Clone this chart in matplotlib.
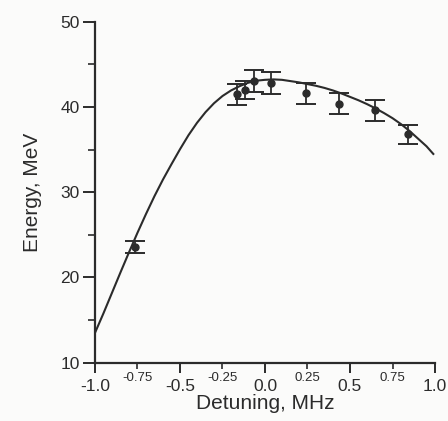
import matplotlib
matplotlib.use("Agg")
import matplotlib.pyplot as plt
from matplotlib.ticker import FixedLocator, FixedFormatter

# Measured points
det = [-0.765, -0.167, -0.118, -0.065, 0.033, 0.239, 0.437, 0.647, 0.843]
energy = [23.6, 41.5, 42.0, 43.1, 42.8, 41.6, 40.4, 39.6, 36.8]
err = [0.7, 1.2, 1.1, 1.3, 1.3, 1.2, 1.2, 1.2, 1.1]

# Theoretical curve
curve_x = [-1.0, -0.95, -0.90, -0.85, -0.80, -0.75, -0.70, -0.65, -0.60,
           -0.55, -0.50, -0.45, -0.40, -0.35, -0.30, -0.25, -0.20, -0.15,
           -0.10, -0.05, 0.0, 0.05, 0.10, 0.15, 0.20, 0.25, 0.30, 0.35,
           0.40, 0.45, 0.50, 0.55, 0.60, 0.65, 0.70, 0.75, 0.80, 0.85,
           0.90, 0.95, 0.99]
curve_y = [13.5, 15.8, 18.2, 20.6, 22.95, 25.25, 27.45, 29.55, 31.5,
           33.3, 35.05, 36.7, 38.15, 39.4, 40.45, 41.3, 41.95, 42.45,
           42.85, 43.1, 43.2, 43.25, 43.2, 43.05, 42.9, 42.7, 42.5, 42.25,
           41.95, 41.6, 41.2, 40.8, 40.35, 39.85, 39.3, 38.7, 38.0, 37.2,
           36.3, 35.4, 34.5]

major_x = [-1.0, -0.5, 0.0, 0.5, 1.0]
major_xlabels = ["-1.0", "-0.5", "0.0", "0.5", "1.0"]
minor_x = [-0.75, -0.25, 0.25, 0.75]
minor_xlabels = ["-0.75", "-0.25", "0.25", "0.75"]
major_y = [10, 20, 30, 40, 50]
minor_y = [15, 25, 35, 45]

plt.rcParams['font.family'] = ['Liberation Sans', 'DejaVu Sans']
ink = '#2b2b2b'

fig = plt.figure(figsize=(4.48, 4.21), dpi=100, facecolor='#fbfbfa')
ax = fig.add_axes([0.212, 0.1385, 0.759, 0.8095])
ax.set_facecolor('#fbfbfa')

ax.plot(curve_x, curve_y, color=ink, lw=1.5, solid_joinstyle='round')
ax.errorbar(det, energy, yerr=err, fmt='o', color=ink, ms=5, capsize=7,
            elinewidth=1.3, capthick=1.4)

ax.set_xlim(-1.0, 1.0)
ax.set_ylim(10, 50)
for s in ['top', 'right']:
    ax.spines[s].set_visible(False)
for s in ['left', 'bottom']:
    ax.spines[s].set_color(ink)
    ax.spines[s].set_linewidth(1.6)

ax.xaxis.set_major_locator(FixedLocator(major_x))
ax.xaxis.set_major_formatter(FixedFormatter(major_xlabels))
ax.xaxis.set_minor_locator(FixedLocator(minor_x))
ax.xaxis.set_minor_formatter(FixedFormatter(minor_xlabels))
ax.yaxis.set_major_locator(FixedLocator(major_y))
ax.yaxis.set_minor_locator(FixedLocator(minor_y))

ax.tick_params(axis='x', which='major', direction='out', length=7, width=1.4,
               colors=ink, labelsize=12.5, pad=5)
ax.tick_params(axis='x', which='minor', direction='out', length=4, width=1.2,
               colors=ink, labelsize=9.5, pad=3)
ax.tick_params(axis='y', which='major', direction='out', length=9, width=1.4,
               colors=ink, labelsize=12.5, pad=2)
ax.tick_params(axis='y', which='minor', direction='out', length=5, width=1.2,
               colors=ink)

ax.set_xlabel("Detuning, MHz", fontsize=15, color=ink, labelpad=0)
ax.set_ylabel("Energy, MeV", fontsize=15, color=ink, labelpad=13)

fig.savefig("out.png", dpi=100, facecolor=fig.get_facecolor())
